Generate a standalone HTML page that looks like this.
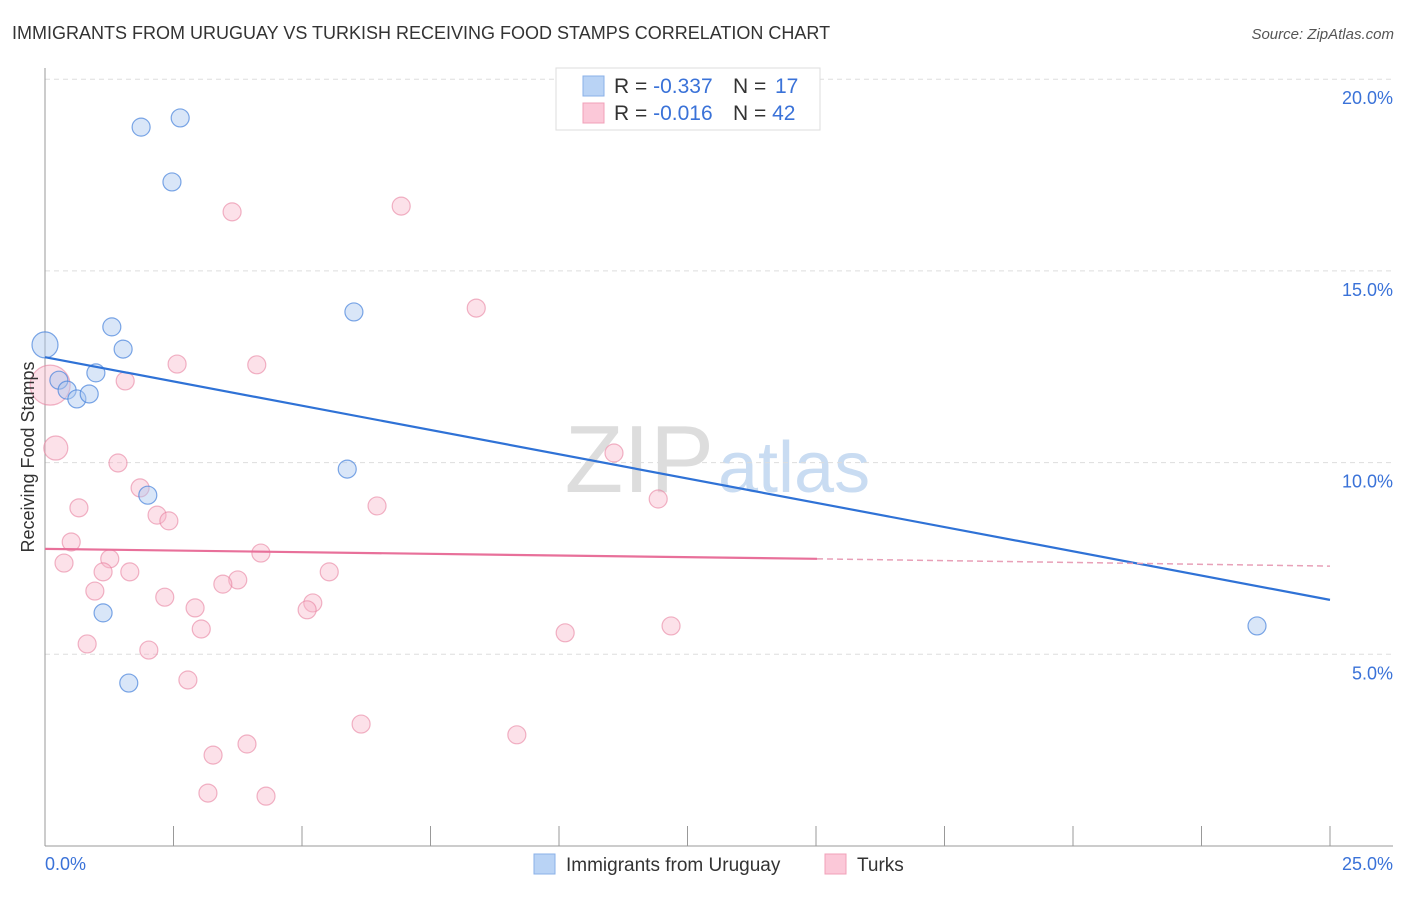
<!DOCTYPE html>
<html><head><meta charset="utf-8"><style>
body{margin:0;background:#fff;font-family:"Liberation Sans",sans-serif;}
svg text{font-family:"Liberation Sans",sans-serif;}
</style></head><body>
<svg width="1406" height="892" xmlns="http://www.w3.org/2000/svg" id="chart">
<text x="12" y="39" font-size="18" fill="#333">IMMIGRANTS FROM URUGUAY VS TURKISH RECEIVING FOOD STAMPS CORRELATION CHART</text>
<text x="1394" y="39" font-size="15" fill="#555" text-anchor="end" font-style="italic">Source: ZipAtlas.com</text>
<text x="714" y="492" font-size="96" fill="#ddd" text-anchor="end" font-family="Liberation Serif">ZIP</text>
<text x="718" y="492" font-size="72" fill="#c9dcf2">atlas</text>
<g id="grid"></g>
<g id="axes"></g>
<g id="marks"></g>
<text transform="translate(34,457) rotate(-90)" font-size="18" fill="#333" text-anchor="middle">Receiving Food Stamps</text>
<text x="45" y="870" font-size="18" fill="#3a72d8">0.0%</text>
<text x="1393" y="870" font-size="18" fill="#3a72d8" text-anchor="end">25.0%</text>
<g>
<rect x="556" y="68" width="264" height="62" fill="#fff" stroke="#ddd"/>
<rect x="583" y="76" width="21" height="20" fill="#b9d3f5" stroke="#8ab0e8"/>
<rect x="583" y="103" width="21" height="20" fill="#fbc8d8" stroke="#f0a0b8"/>
<text x="614" y="93" font-size="21" fill="#333">R = <tspan fill="#3a72d8">-0.337</tspan><tspan x="733">N = </tspan><tspan fill="#3a72d8" x="775">17</tspan></text>
<text x="614" y="120" font-size="21" fill="#333">R = <tspan fill="#3a72d8">-0.016</tspan><tspan x="733">N = </tspan><tspan fill="#3a72d8">42</tspan></text>
</g>
<g>
<rect x="534" y="854" width="21" height="20" fill="#b9d3f5" stroke="#8ab0e8"/>
<text x="566" y="871" font-size="19" fill="#333">Immigrants from Uruguay</text>
<rect x="825" y="854" width="21" height="20" fill="#fbc8d8" stroke="#f0a0b8"/>
<text x="857" y="871" font-size="19" fill="#333">Turks</text>
</g>
</svg>
<script>
const yTicks=[5,10,15,20];
const yTickLabels=["5.0%","10.0%","15.0%","20.0%"];
const xTicks=[0,2.5,5,7.5,10,12.5,15,17.5,20,22.5,25];
const blueX=[0,0.27,0.43,0.62,0.86,0.99,1.30,1.52,1.87,2.63,2.47,6.01,5.88,2.00,1.13,1.63,23.58];
const blueY=[13.07,12.15,11.89,11.66,11.79,12.34,13.54,12.96,18.75,18.99,17.32,13.93,9.83,9.15,6.08,4.25,5.74];
const blueR=[13,9,9,9,9,9,9,9,9,9,9,9,9,9,9,9,9];
const pinkX=[0.10,0.21,3.64,6.93,8.39,2.57,4.12,1.56,1.42,1.85,0.66,2.18,2.41,6.46,11.07,11.93,0.51,1.26,0.37,4.20,1.13,1.65,5.53,3.75,3.46,0.97,2.33,2.92,5.21,5.10,3.04,0.82,2.02,10.12,12.18,2.78,6.15,3.93,3.27,9.18,3.17,4.30];
const pinkY=[12.02,10.38,16.54,16.69,14.03,12.57,12.55,12.13,9.99,9.34,8.82,8.63,8.48,8.87,10.25,9.05,7.93,7.49,7.38,7.64,7.15,7.15,7.15,6.94,6.83,6.65,6.49,6.21,6.34,6.16,5.66,5.27,5.11,5.56,5.74,4.33,3.18,2.66,2.37,2.90,1.38,1.30];
const pinkR=[20,12,9,9,9,9,9,9,9,9,9,9,9,9,9,9,9,9,9,9,9,9,9,9,9,9,9,9,9,9,9,9,9,9,9,9,9,9,9,9,9,9];
const blueTrend=[[0,12.75],[25,6.42]];
const pinkTrendSolid=[[0,7.75],[15.02,7.49]];
const pinkTrendDash=[[15.02,7.49],[25,7.30]];
const X0=45,X1=1330,Y0=846,PPU=38.34;
const sx=v=>X0+v/25*(X1-X0);
const sy=v=>Y0-v*PPU;
const NS="http://www.w3.org/2000/svg";
function mk(tag,attrs,parent){const e=document.createElementNS(NS,tag);for(const k in attrs)e.setAttribute(k,attrs[k]);document.getElementById(parent).appendChild(e);return e;}
yTicks.forEach((t,i)=>{
 const l=mk('line',{x1:45,x2:1393,y1:sy(t),y2:sy(t),stroke:'#ddd','stroke-dasharray':'5,4'},'grid');
 
 
 const tx=mk('text',{x:1393,y:sy(t)+25,'font-size':18,fill:'#3a72d8','text-anchor':'end'},'grid');
 tx.textContent=yTickLabels[i];
 
 
});
const ya=mk('line',{x1:45,x2:45,y1:68,y2:846,stroke:'#999'},'axes');


const xa=mk('line',{x1:45,x2:1393,y1:846,y2:846,stroke:'#999'},'axes');


xTicks.forEach(t=>{
 const l=mk('line',{x1:sx(t),x2:sx(t),y1:826,y2:846,stroke:'#999'},'axes');
 
 
});
pinkX.forEach((v,i)=>{
 const c=mk('circle',{cx:sx(v),cy:sy(pinkY[i]),r:pinkR[i],fill:'rgba(248,180,200,0.4)',stroke:'rgba(232,130,160,0.6)','stroke-width':1.2},'marks');
 
 
});
blueX.forEach((v,i)=>{
 const c=mk('circle',{cx:sx(v),cy:sy(blueY[i]),r:blueR[i],fill:'rgba(170,200,240,0.45)',stroke:'rgba(70,130,220,0.7)','stroke-width':1.2},'marks');
 
 
});
const bt=mk('line',{x1:sx(blueTrend[0][0]),y1:sy(blueTrend[0][1]),x2:sx(blueTrend[1][0]),y2:sy(blueTrend[1][1]),stroke:'#2f72d6','stroke-width':2.2},'marks');


const pt=mk('line',{x1:sx(pinkTrendSolid[0][0]),y1:sy(pinkTrendSolid[0][1]),x2:sx(pinkTrendSolid[1][0]),y2:sy(pinkTrendSolid[1][1]),stroke:'#e8709a','stroke-width':2.2},'marks');


const pd=mk('line',{x1:sx(pinkTrendDash[0][0]),y1:sy(pinkTrendDash[0][1]),x2:sx(pinkTrendDash[1][0]),y2:sy(pinkTrendDash[1][1]),stroke:'#e8a0b8','stroke-width':1.5,'stroke-dasharray':'6,4'},'marks');


</script>
</body></html>
